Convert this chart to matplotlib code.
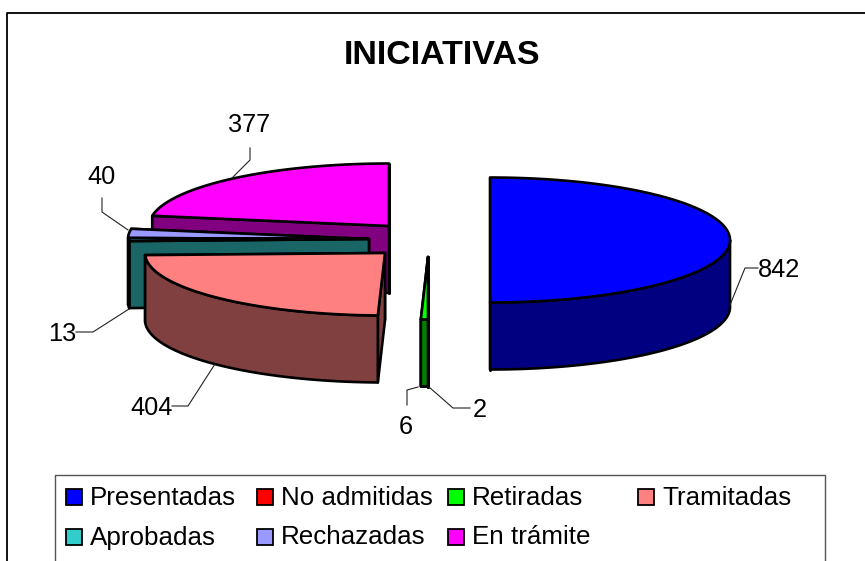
import numpy as np
import matplotlib
matplotlib.use('Agg')
import matplotlib.pyplot as plt
from matplotlib.patches import Polygon, Rectangle

plt.rcParams['font.family'] = ['Liberation Sans', 'DejaVu Sans']

# donnees
categorias = ['Presentadas', 'No admitidas', 'Retiradas', 'Tramitadas', 'Aprobadas', 'Rechazadas', 'En trámite']
valores = [842, 6, 2, 404, 13, 40, 377]

# couleurs
tapas = ['#0000FF', '#FF0000', '#00FF00', '#FF8080', '#33CCCC', '#9999FF', '#FF00FF']
lados = ['#000080', '#800000', '#008000', '#804040', '#1A6666', '#4D4D80', '#800080']

# centre of each exploded slice, in pixels
centros = [(490, 240), (428, 257), (428, 257), (385, 253), (369, 239), (368, 239), (389, 226)]
orden = [6, 5, 4, 3, 1, 2, 0]  # back to front

RX, RY, PROF = 240, 62.5, 67
LW = 1.9

fig = plt.figure(figsize=(8.65, 5.61), dpi=100)
ax = fig.add_axes([0, 0, 1, 1])
ax.set_xlim(0, 865)
ax.set_ylim(561, 0)
ax.axis('off')

# outer frame, cut by the bottom and right of the picture
ax.plot([7, 7, 865], [561, 12.5, 12.5], color='black', lw=1.3)
ax.text(442, 55.5, 'INICIATIVAS', fontsize=24.5, fontweight='bold', ha='center', va='center')


def borde(cx, cy, ang):
    return cx + RX * np.sin(ang), cy - RY * np.cos(ang)


def dibuja_porcion(i, a1, a2):
    cx, cy = centros[i]
    kw = dict(edgecolor='black', lw=LW, joinstyle='round')
    # cut faces, the one further back first
    caras = sorted([a1, a2], key=lambda a: borde(cx, cy, a)[1])
    for a in caras:
        x, y = borde(cx, cy, a)
        ax.add_patch(Polygon([(cx, cy), (x, y), (x, y + PROF), (cx, cy + PROF)], facecolor=lados[i], **kw))
    # rim on the front half only
    ini, fin = max(a1, np.pi / 2), min(a2, 3 * np.pi / 2)
    if fin > ini:
        t = np.linspace(ini, fin, 120)
        xs, ys = borde(cx, cy, t)
        pts = list(zip(xs, ys)) + list(zip(xs[::-1], ys[::-1] + PROF))
        ax.add_patch(Polygon(pts, facecolor=lados[i], **kw))
    # top
    t = np.linspace(a1, a2, 120)
    xs, ys = borde(cx, cy, t)
    ax.add_patch(Polygon([(cx, cy)] + list(zip(xs, ys)), facecolor=tapas[i], **kw))


acum = np.cumsum([0] + valores) / sum(valores) * 2 * np.pi
for i in orden:
    a1 = acum[i]
    # the green sliver sits over the red one in the original
    if categorias[i] == 'Retiradas':
        a1 = acum[i - 1]
    dibuja_porcion(i, a1, acum[i + 1])

# data labels and leader lines
etiquetas = [
    (779, 269.5, [(730, 305), (745, 268), (758, 268)]),
    (406, 426.5, [(418, 387), (407, 390), (407, 405)]),
    (480, 409.5, [(429, 387), (453, 408), (470, 408)]),
    (152, 407.5, [(215, 364), (188, 406), (172, 406)]),
    (62, 333.5, [(129, 309), (93, 332), (76, 332)]),
    (101, 176.5, [(128, 230), (102, 212), (102, 198)]),
    (249, 124.5, [(232, 178), (250, 160), (250, 148)]),
]
for v, (tx, ty, linea) in zip(valores, etiquetas):
    xs, ys = zip(*linea)
    ax.plot(xs, ys, color='#222222', lw=0.8)
    ax.text(tx, ty, str(v), fontsize=18.3, ha='center', va='center')

# legend box, also cut by the bottom
ax.plot([55, 55, 825, 825], [561, 474.5, 474.5, 561], color='#555555', lw=1)
col_x = [66, 257, 448, 638]
fila_y = [497, 537]
for i, nom in enumerate(categorias):
    fila = 0 if i < 4 else 1
    x = col_x[i if i < 4 else i - 4]
    y = fila_y[fila]
    ax.add_patch(Rectangle((x, y - 8), 16, 16, facecolor=tapas[i], edgecolor='black', lw=1.3))
    ax.text(x + 24, y + 0.5, nom, fontsize=18.7, ha='left', va='center')

fig.savefig('out.png', dpi=100)
